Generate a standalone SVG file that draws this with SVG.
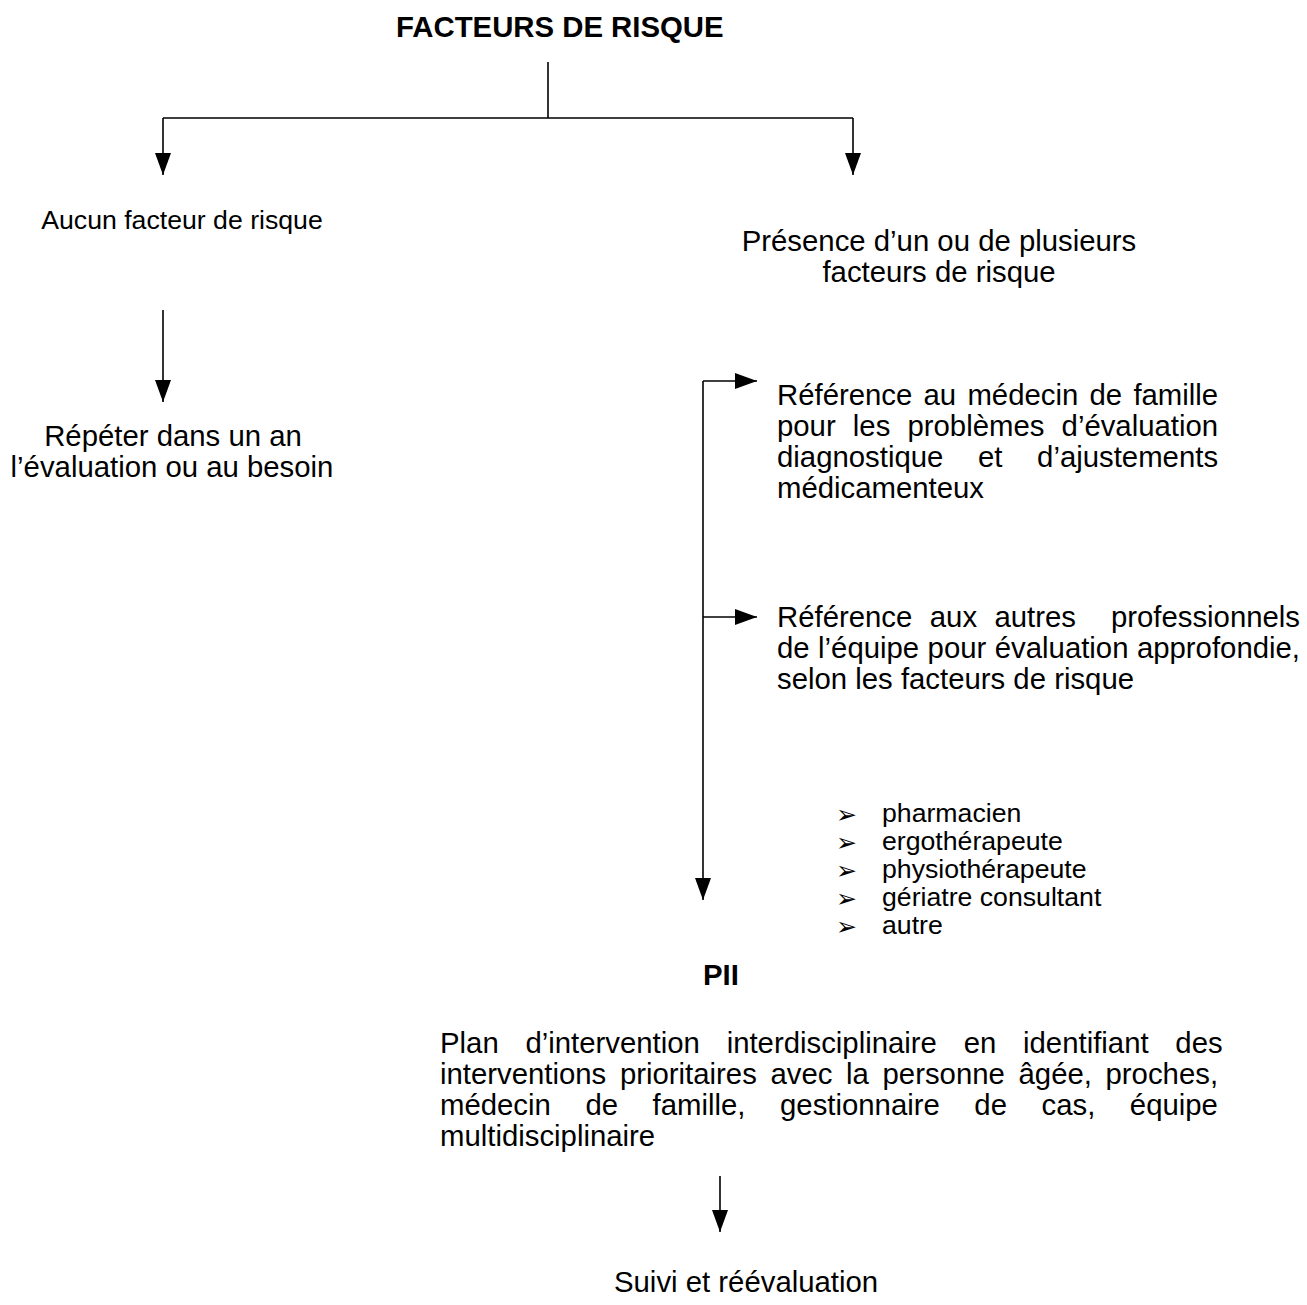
<svg xmlns="http://www.w3.org/2000/svg" width="1307" height="1305" viewBox="0 0 1307 1305">
<defs>
<style>
.t{font-family:"Liberation Sans",Arial,sans-serif;font-size:29.33px;fill:#000}
.a{font-family:"Liberation Sans",Arial,sans-serif;font-size:26.67px;fill:#000}
.b{font-weight:bold}
.bul{font-family:"DejaVu Sans",sans-serif;font-size:25px;fill:#000}
.ln{stroke:#000;stroke-width:1.6;fill:none}
</style>
<marker id="ah" markerUnits="userSpaceOnUse" markerWidth="22" markerHeight="16" refX="22" refY="8" orient="auto" viewBox="0 0 22 16">
<path d="M0,0 L22,8 L0,16 z" fill="#000"/>
</marker>
</defs>
<rect width="1307" height="1305" fill="#fff"/>
<g id="connectors">
<path class="ln" d="M548,62 V118"/>
<path class="ln" d="M163,118 H853"/>
<path class="ln" d="M163,118 V175" marker-end="url(#ah)"/>
<path class="ln" d="M853,118 V175" marker-end="url(#ah)"/>
<path class="ln" d="M163,310 V402" marker-end="url(#ah)"/>
<path class="ln" d="M703,381 V900" marker-end="url(#ah)"/>
<path class="ln" d="M703,381 H757" marker-end="url(#ah)"/>
<path class="ln" d="M703,617 H757" marker-end="url(#ah)"/>
<path class="ln" d="M720,1176 V1232" marker-end="url(#ah)"/>
</g>
<g id="title"><text class="t b" x="396" y="37">FACTEURS DE RISQUE</text></g>
<g id="aucun"><text class="a" x="182" y="229" text-anchor="middle">Aucun facteur de risque</text></g>
<g id="repeter">
<text class="t" x="173" y="446" text-anchor="middle">Répéter dans un an</text>
<text class="t" x="172" y="477" text-anchor="middle">l’évaluation ou au besoin</text>
</g>
<g id="presence">
<text class="t" x="939" y="251" text-anchor="middle">Présence d’un ou de plusieurs</text>
<text class="t" x="939" y="282" text-anchor="middle">facteurs de risque</text>
</g>
<g id="ref-medecin">
<text class="t" x="777" y="405" word-spacing="3.1">Référence au médecin de famille</text>
<text class="t" x="777" y="436" word-spacing="9">pour les problèmes d’évaluation</text>
<text class="t" x="777" y="467" word-spacing="26.5">diagnostique et d’ajustements</text>
<text class="t" x="777" y="498">médicamenteux</text>
</g>
<g id="ref-autres">
<text class="t" x="777" y="627" word-spacing="9.3" xml:space="preserve">Référence aux autres  professionnels</text>
<text class="t" x="777" y="658" word-spacing="0.3">de l’équipe pour évaluation approfondie,</text>
<text class="t" x="777" y="689">selon les facteurs de risque</text>
</g>
<g id="liste">
<text class="bul" x="836" y="823">➢</text><text class="a" x="882" y="822">pharmacien</text>
<text class="bul" x="836" y="851">➢</text><text class="a" x="882" y="850">ergothérapeute</text>
<text class="bul" x="836" y="879">➢</text><text class="a" x="882" y="878">physiothérapeute</text>
<text class="bul" x="836" y="907">➢</text><text class="a" x="882" y="906">gériatre consultant</text>
<text class="bul" x="836" y="935">➢</text><text class="a" x="882" y="934">autre</text>
</g>
<g id="pii"><text class="t b" x="721" y="985" text-anchor="middle">PII</text></g>
<g id="plan">
<text class="t" x="440" y="1053" word-spacing="18.6">Plan d’intervention interdisciplinaire en identifiant des</text>
<text class="t" x="440" y="1084" word-spacing="5.5">interventions prioritaires avec la personne âgée, proches,</text>
<text class="t" x="440" y="1115" word-spacing="26.4">médecin de famille, gestionnaire de cas, équipe</text>
<text class="t" x="440" y="1146">multidisciplinaire</text>
</g>
<g id="suivi"><text class="t" x="614" y="1292">Suivi et réévaluation</text></g>
</svg>
